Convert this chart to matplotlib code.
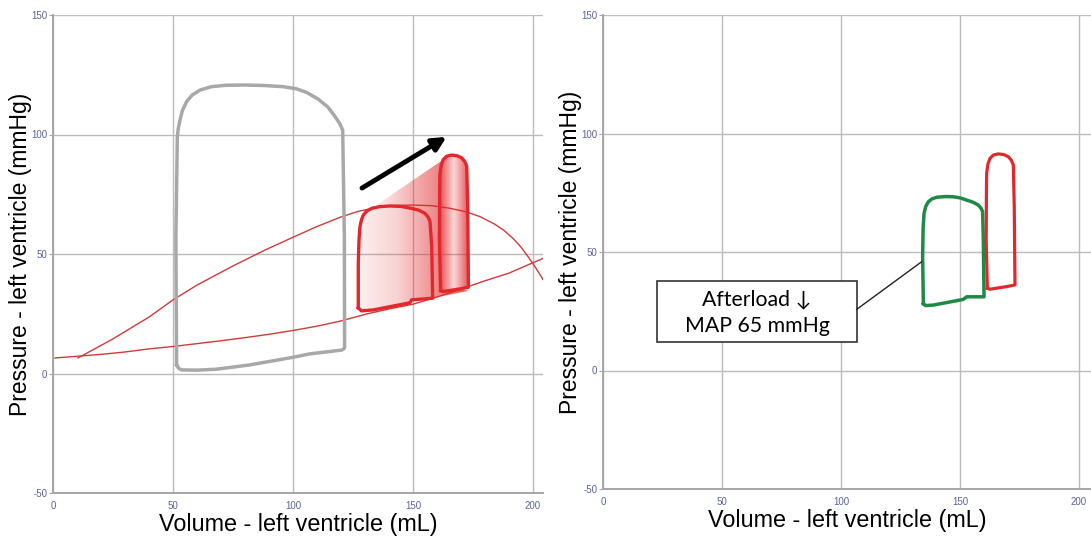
import numpy as np
import matplotlib
matplotlib.use("Agg")
import matplotlib.pyplot as plt
from matplotlib.patches import Polygon, Rectangle

# ---------------- data ----------------
# control loop (gray)
ctrl_v = [51.5, 52.3, 53.6, 60.0, 68.2, 82.0, 100.1, 107.0, 120.3, 121.2, 121.5, 121.4,
          120.7, 119.5, 117.2, 114.5, 110.5, 105.7, 101.5, 96.0, 88.0, 80.0, 72.0, 66.0,
          61.3, 58.0, 55.7, 53.9, 52.9, 52.2, 51.8, 51.2, 51.5]
ctrl_p = [3.6, 2.2, 1.5, 1.4, 1.8, 3.6, 6.8, 8.2, 9.8, 10.3, 11.0, 57.2,
          101.9, 104.5, 108.0, 111.5, 114.8, 117.6, 119.1, 120.0, 120.5, 120.7, 120.6, 120.0,
          118.6, 116.5, 113.8, 110.0, 106.0, 102.5, 99.0, 57.2, 3.6]

# loop 1 (left panel, smaller red loop)
l1_v = [127.2, 127.2, 127.5, 127.9, 128.5, 129.3, 130.8, 132.8, 136.0, 140.4, 145.0, 149.4,
        152.5, 155.0, 156.4, 157.1, 157.8, 158.2, 149.4, 148.8, 133.5, 128.5, 127.2]
l1_p = [27.5, 46.1, 56.0, 61.4, 64.2, 66.3, 68.0, 69.1, 69.8, 70.1, 69.9, 69.1,
        68.3, 67.0, 65.3, 63.5, 53.0, 31.5, 30.8, 29.6, 26.6, 26.2, 27.5]

# high-afterload loop (red, both panels)
hi_v = [161.5, 161.0, 161.1, 161.2, 161.7, 162.6, 164.0, 166.1, 168.4, 170.3, 171.6,
        172.4, 172.8, 173.1, 169.6, 162.6, 161.5]
hi_p = [34.7, 55.0, 75.0, 83.2, 87.0, 89.5, 90.9, 91.4, 91.1, 90.2, 88.7,
        86.7, 69.1, 36.1, 35.4, 34.3, 34.7]

# afterload-reduced loop (green, right panel)
gr_v = [134.6, 134.3, 134.5, 134.9, 135.6, 136.7, 138.2, 140.2, 144.0, 147.2, 150.2, 152.8,
        155.5, 157.7, 158.9, 159.5, 159.8, 160.1, 152.8, 151.4, 138.8, 135.5, 134.6]
gr_p = [28.2, 48.0, 60.0, 66.3, 69.2, 71.2, 72.4, 73.1, 73.4, 73.3, 72.8, 71.9,
        71.0, 69.8, 68.4, 67.0, 55.0, 31.1, 31.1, 30.0, 27.6, 27.4, 28.2]

# end-systolic-type arc (thin red)
arc_v = [10.4, 25, 40, 50, 60, 75, 88, 100, 110, 120, 127, 135, 142, 150, 158, 165,
         172, 178, 184, 188, 192, 195, 198, 201, 205]
arc_p = [6.5, 14.5, 23.6, 30.8, 37.0, 45.0, 51.5, 57.0, 61.5, 65.5, 67.8, 69.5, 70.3,
         70.5, 70.2, 69.2, 67.7, 65.6, 62.5, 59.8, 56.2, 52.9, 48.8, 44.4, 38.0]

# end-diastolic curve (thin red)
edp_v = [0.8, 10, 20, 30, 40, 50, 60, 70, 80, 90, 100, 110, 120, 131, 140, 150, 160,
         172, 180, 190, 198, 205]
edp_p = [6.5, 7.2, 8.0, 9.0, 10.3, 11.3, 12.5, 13.7, 15.0, 16.4, 18.0, 19.8, 22.0,
         25.0, 27.0, 29.0, 32.0, 36.0, 38.8, 42.0, 45.5, 48.5]

# arrow (start, end)
arrow_start = (128.75, 77.6)
arrow_end = (164.0, 99.0)

# annotation
note_lines = ["Afterload \u2193", "MAP 65 mmHg"]
note_box = (22.7, 12.0, 84.0, 25.8)      # x, y, width, height
note_link = ([106.6, 133.9], [25.8, 45.9])

xticks = [0, 50, 100, 150, 200]
yticks = [-50, 0, 50, 100, 150]
xlabel = "Volume - left ventricle (mL)"
ylabel = "Pressure - left ventricle (mmHg)"

# ---------------- styling ----------------
plt.rcParams['font.family'] = ['Liberation Sans', 'DejaVu Sans']
plt.rcParams['axes.unicode_minus'] = False
RED = '#e2282c'
GRAY = '#a8a8a8'
GREEN = '#1f8a45'
TICKC = '#5b6496'

fig = plt.figure(figsize=(10.91, 5.36), dpi=100)
W, H = 1091, 536
ax1 = fig.add_axes([53 / W, 43 / H, 490 / W, 478 / H])
ax2 = fig.add_axes([603 / W, 47 / H, 488 / W, 474 / H])
lims = [(0, 490 / 2.4), (0, 488 / 2.38)]


def style(ax, xl):
    ax.set_xlim(*xl)
    ax.set_ylim(-50, 150)
    ax.set_xticks(xticks)
    ax.set_yticks(yticks)
    ax.grid(True, color='#bcbcbc', lw=1.0, zorder=0)
    ax.set_axisbelow(True)
    for s in ['top', 'right']:
        ax.spines[s].set_visible(False)
    for s in ['left', 'bottom']:
        ax.spines[s].set_color('#a6a6a6')
        ax.spines[s].set_linewidth(1.4)
    ax.tick_params(axis='y', length=3, color='#a6a6a6', labelsize=7,
                   labelcolor=TICKC, pad=1)
    ax.tick_params(axis='x', length=0, labelsize=7, labelcolor=TICKC, pad=6)
    ax.set_xlabel(xlabel, fontsize=16.8, labelpad=1)
    ax.set_ylabel(ylabel, fontsize=16.5, labelpad=-0.5)


def gradient_fill(ax, xs, ys, alphas, zorder):
    poly = Polygon(np.column_stack([xs, ys]), closed=True, facecolor='none',
                   edgecolor='none')
    ax.add_patch(poly)
    n = len(alphas)
    img = np.zeros((2, n, 4))
    img[..., 0] = 0.89
    img[..., 1] = 0.16
    img[..., 2] = 0.17
    img[..., 3] = np.array(alphas)[None, :]
    im = ax.imshow(img, extent=[min(xs), max(xs), min(ys), max(ys)],
                   aspect='auto', origin='lower', interpolation='bilinear',
                   zorder=zorder)
    im.set_clip_path(poly)


# ---------------- left panel ----------------
ax1.plot(ctrl_v, ctrl_p, color=GRAY, lw=2.5, solid_joinstyle='round', zorder=3)
ax1.plot(arc_v, arc_p, color='#d23a3a', lw=1.0, zorder=2)
ax1.plot(edp_v, edp_p, color='#d23a3a', lw=1.0, zorder=2)

# wedge between loop1 and the high-afterload loop (stops at its left side)
wedge_v = [l1_v[7], hi_v[5], hi_v[4], hi_v[3], hi_v[2], hi_v[1], hi_v[0], hi_v[15],
           hi_v[14], hi_v[13], l1_v[17], l1_v[16], l1_v[14], l1_v[12], l1_v[9]]
wedge_p = [l1_p[7], hi_p[5], hi_p[4], hi_p[3], hi_p[2], hi_p[1], hi_p[0], hi_p[15],
           hi_p[14], hi_p[13] - 1.5, l1_p[17], l1_p[16], l1_p[14], l1_p[12], l1_p[9]]
gradient_fill(ax1, wedge_v, wedge_p, np.linspace(0.05, 0.8, 40), 2.5)
gradient_fill(ax1, l1_v, l1_p,
              np.concatenate([np.linspace(0.07, 0.2, 20), np.linspace(0.2, 0.5, 20)]), 2.6)
gradient_fill(ax1, hi_v, hi_p,
              np.concatenate([np.linspace(0.85, 0.2, 20), np.linspace(0.2, 0.8, 20)]), 2.6)
ax1.plot(l1_v, l1_p, color=RED, lw=2.4, solid_joinstyle='round', zorder=4)
ax1.plot(hi_v, hi_p, color=RED, lw=2.4, solid_joinstyle='round', zorder=4)
ax1.annotate('', xy=arrow_end, xytext=arrow_start,
             arrowprops=dict(arrowstyle='-|>', lw=3.5, color='black',
                             mutation_scale=20, shrinkA=0, shrinkB=0), zorder=5)
style(ax1, lims[0])

# ---------------- right panel ----------------
ax2.plot(gr_v, gr_p, color=GREEN, lw=2.5, solid_joinstyle='round', zorder=4)
ax2.plot(hi_v, hi_p, color=RED, lw=2.3, solid_joinstyle='round', zorder=4)
bx, by, bw, bh = note_box
ax2.add_patch(Rectangle((bx, by), bw, bh, facecolor='white', edgecolor='#333333',
                        lw=1.2, zorder=5))
ax2.plot(note_link[0], note_link[1], color='#222222', lw=1.0, zorder=5)
ax2.text(bx + bw / 2, by + bh * 0.70, note_lines[0], ha='center', va='center',
         fontsize=15.3, family=['Lato', 'DejaVu Sans'], zorder=6)
ax2.text(bx + bw / 2, by + bh * 0.27, note_lines[1], ha='center', va='center',
         fontsize=15.3, family=['Lato', 'DejaVu Sans'], zorder=6)
style(ax2, lims[1])

fig.savefig('out.png', dpi=100)
